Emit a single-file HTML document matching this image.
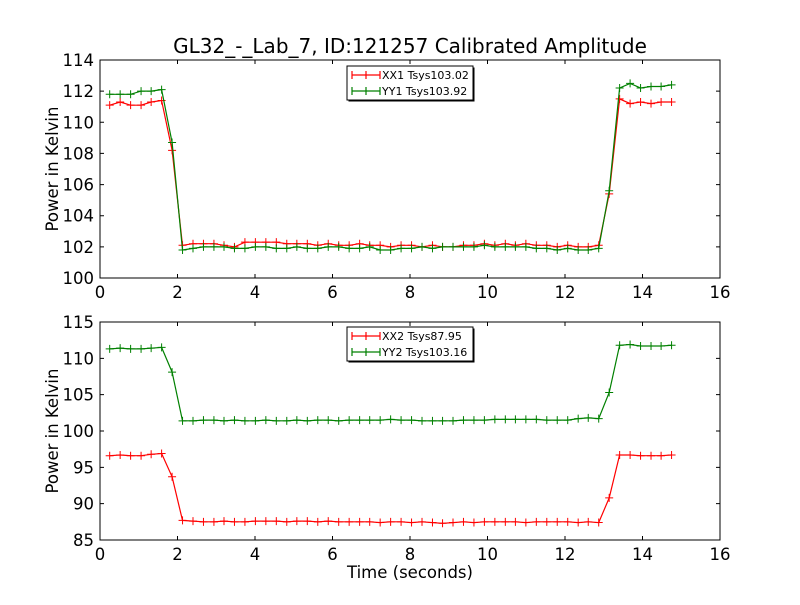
<!DOCTYPE html>
<html><head><meta charset="utf-8"><style>
body{margin:0;background:#fff;}
svg text{font-family:"DejaVu Sans","Liberation Sans",sans-serif;}
</style></head><body>
<svg id="chart" width="800" height="600" xmlns="http://www.w3.org/2000/svg">
<rect width="800" height="600" fill="#fff"/>
<text x="410" y="53" font-size="20" text-anchor="middle">GL32_-_Lab_7, ID:121257 Calibrated Amplitude</text>
<g id="top"></g>
<g id="bot"></g>
<text x="410" y="578" font-size="16.5" text-anchor="middle">Time (seconds)</text>
</svg>
<script>
const times=[0.25,0.52,0.79,1.06,1.32,1.59,1.86,2.13,2.40,2.67,2.94,3.20,3.47,3.74,4.01,4.28,4.55,4.82,5.08,5.35,5.62,5.89,6.16,6.43,6.70,6.96,7.23,7.50,7.77,8.04,8.31,8.58,8.84,9.11,9.38,9.65,9.92,10.19,10.46,10.72,10.99,11.26,11.53,11.80,12.07,12.34,12.60,12.87,13.14,13.41,13.68,13.95,14.22,14.48,14.75];
const xx1=[111.1,111.3,111.1,111.1,111.3,111.4,108.2,
102.1,102.2,102.2,102.2,102.1,102.0,102.3,102.3,102.3,102.3,
102.2,102.2,102.2,102.1,102.2,102.1,102.1,102.2,102.1,102.1,
102.0,102.1,102.1,102.0,102.1,102.0,102.0,102.1,102.1,102.2,
102.1,102.2,102.1,102.2,102.1,102.1,102.0,102.1,102.0,102.0,
102.1,105.4,111.5,111.2,111.3,111.2,111.3,111.3];
const yy1=[111.8,111.8,111.8,112.0,112.0,112.1,108.7,
101.8,101.9,102.0,102.0,102.0,101.9,101.9,102.0,102.0,101.9,
101.9,102.0,101.9,101.9,102.0,102.0,101.9,101.9,102.0,101.8,
101.8,101.9,101.9,102.0,101.9,102.0,102.0,102.0,102.0,102.1,
102.0,102.0,102.0,102.0,101.9,101.9,101.8,101.9,101.8,101.8,
101.9,105.6,112.2,112.5,112.2,112.3,112.3,112.4];
const xx2=[96.6,96.7,96.6,96.6,96.8,96.9,93.7,
87.7,87.6,87.5,87.5,87.6,87.5,87.5,87.6,87.6,87.6,
87.5,87.6,87.6,87.5,87.6,87.5,87.5,87.5,87.5,87.4,
87.5,87.5,87.4,87.5,87.4,87.3,87.4,87.5,87.4,87.5,
87.5,87.5,87.5,87.4,87.5,87.5,87.5,87.5,87.4,87.5,
87.4,90.8,96.7,96.7,96.6,96.6,96.6,96.7];
const yy2=[111.3,111.4,111.3,111.3,111.4,111.5,108.1,
101.4,101.4,101.5,101.5,101.4,101.5,101.4,101.4,101.5,101.4,
101.4,101.5,101.4,101.5,101.5,101.4,101.5,101.5,101.5,101.5,
101.6,101.5,101.5,101.4,101.4,101.4,101.4,101.5,101.5,101.5,
101.6,101.6,101.6,101.6,101.6,101.5,101.5,101.5,101.7,101.8,
101.7,105.3,111.8,111.9,111.7,111.7,111.7,111.8];
const xTicks=[0,2,4,6,8,10,12,14,16];
const yTicksTop=[100,102,104,106,108,110,112,114];
const yTicksBot=[85,90,95,100,105,110,115];
const NS="http://www.w3.org/2000/svg";
function mk(parent,tag,attrs){const e=document.createElementNS(NS,tag);for(const k in attrs)e.setAttribute(k,attrs[k]);parent.appendChild(e);return e;}
function panel(g,top,bottom,ymin,ymax,yTicks,series,legend,legY){
  const L=100,R=720;
  const sx=v=>L+(v-0)/(16-0)*(R-L);
  const sy=v=>bottom-(v-ymin)/(ymax-ymin)*(bottom-top);
  series.forEach(s=>{
    let d='';
    times.forEach((t,i)=>{d+=(i?'L':'M')+sx(t).toFixed(1)+' '+sy(s.vals[i]).toFixed(1);});
    const p=mk(g,'path',{d:d,fill:'none',stroke:s.color,'stroke-width':1.2});
    
    
    times.forEach((t,i)=>{
      const x=sx(t),y=sy(s.vals[i]);
      const m=mk(g,'path',{d:`M${x-4} ${y}H${x+4}M${x} ${y-4}V${y+4}`,stroke:s.color,'stroke-width':1});
      
      
    });
  });
  const fr=mk(g,'rect',{x:L,y:top,width:R-L,height:bottom-top,fill:'none',stroke:'#000','stroke-width':1});
  
  
  xTicks.forEach(v=>{
    const x=sx(v);
    mk(g,'path',{d:`M${x} ${bottom}v-4M${x} ${top}v4`,stroke:'#000'});
    const t=mk(g,'text',{x:x,y:bottom+20,'font-size':16.5,'text-anchor':'middle'});
    t.textContent=v;
    
    
  });
  yTicks.forEach(v=>{
    const y=sy(v);
    mk(g,'path',{d:`M${L} ${y}h4M${R} ${y}h-4`,stroke:'#000'});
    const t=mk(g,'text',{x:L-6,y:y+6,'font-size':16.5,'text-anchor':'end'});
    t.textContent=v;
    
    
  });
  const yl=mk(g,'text',{x:0,y:0,'font-size':16.5,'text-anchor':'middle',transform:`translate(58 ${(top+bottom)/2}) rotate(-90)`});
  yl.textContent='Power in Kelvin';
  
  
  const lg=mk(g,'g',{});
  
  
  mk(lg,'rect',{x:348.5,y:legY+0.5,width:126,height:34,fill:'#000'});
  mk(lg,'rect',{x:347,y:legY-1,width:126,height:34,fill:'#fff',stroke:'#000'});
  legend.forEach((l,i)=>{
    const y=legY+8+i*16;
    mk(lg,'path',{d:`M352 ${y}h28M366 ${y-4}v8M352 ${y-4}v8M380 ${y-4}v8`,stroke:l.color,'stroke-width':1.2});
    const t=mk(lg,'text',{x:382,y:y+4,'font-size':11});
    t.textContent=l.label;
    
    
  });
}
panel(document.getElementById('top'),60,278,100,114,yTicksTop,
 [{vals:xx1,color:'#ff0000',name:'xx1'},{vals:yy1,color:'#008000',name:'yy1'}],
 [{label:'XX1 Tsys103.02',color:'#ff0000'},{label:'YY1 Tsys103.92',color:'#008000'}],67);
panel(document.getElementById('bot'),322,540,85,115,yTicksBot,
 [{vals:yy2,color:'#008000',name:'yy2'},{vals:xx2,color:'#ff0000',name:'xx2'}],
 [{label:'XX2 Tsys87.95',color:'#ff0000'},{label:'YY2 Tsys103.16',color:'#008000'}],328);
</script>
</body></html>
